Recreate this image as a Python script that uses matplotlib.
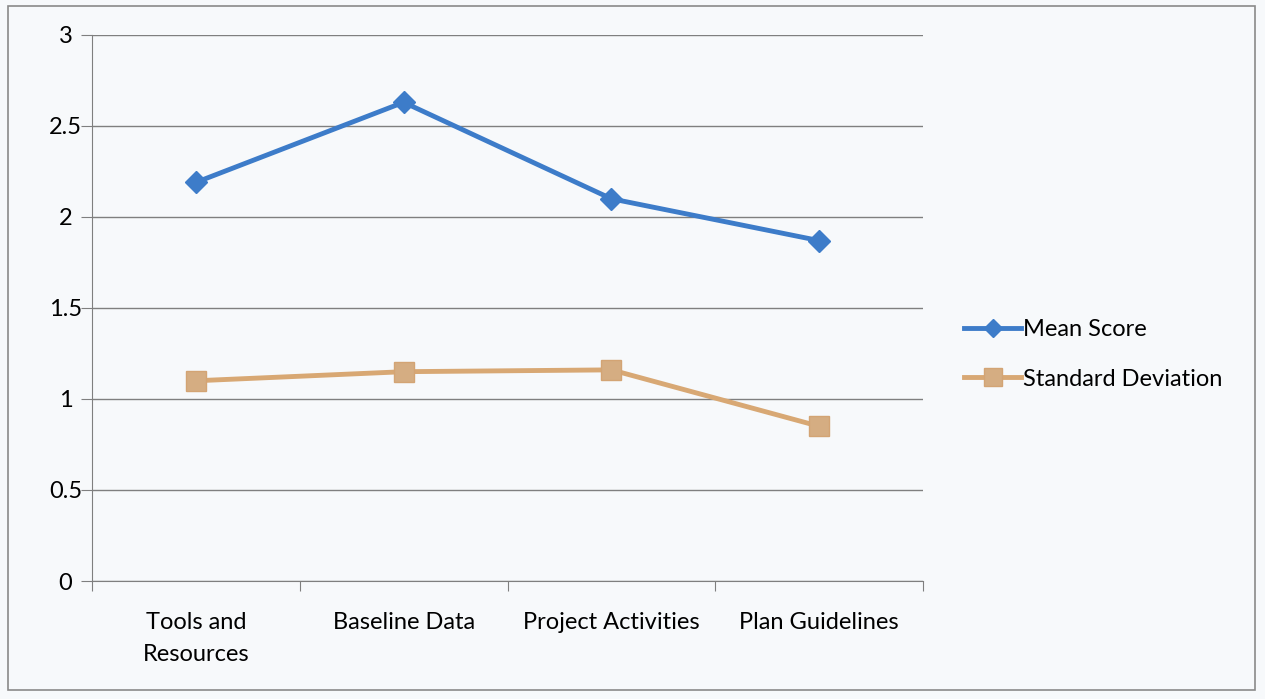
import matplotlib.pyplot as plt
import numpy as np
from matplotlib.patches import Rectangle

categories = ['Tools and\nResources', 'Baseline Data', 'Project Activities', 'Plan Guidelines']
mean_score = [2.19, 2.63, 2.10, 1.87]
std_dev = [1.10, 1.15, 1.16, 0.85]
y_ticks = [0, 0.5, 1, 1.5, 2, 2.5, 3]
y_labels = ['0', '0.5', '1', '1.5', '2', '2.5', '3']

plt.rcParams['font.family'] = ['Lato', 'DejaVu Sans']

fig = plt.figure(figsize=(12.65, 6.99), dpi=100)
fig.patch.set_facecolor('#f7f9fb')
# рамка области диаграммы
fig.patches.append(Rectangle((8 / 1265, 9 / 699), 1247 / 1265, 684 / 699,
                             transform=fig.transFigure, fill=False,
                             edgecolor='#8a8a8a', linewidth=1.2))

ax = fig.add_axes([0.0727, 0.1688, 0.657, 0.7812])
ax.set_facecolor('none')
x = np.arange(len(categories))

ax.plot(x, mean_score, color='#3d7cc9', linewidth=3.5, marker='D', markersize=11,
        label='Mean Score', zorder=3)
ax.plot(x, std_dev, color='#d8a874', linewidth=3.5, marker='s', markersize=15,
        markerfacecolor='#d5ad82', markeredgecolor='#d3a474', label='Standard Deviation', zorder=3)

ax.set_xlim(-0.5, len(categories) - 0.5)
ax.set_ylim(0, 3)
ax.set_yticks(y_ticks)
ax.set_yticklabels(y_labels, fontsize=17, ha='center')
ax.yaxis.grid(True, color='#7f7f7f', linewidth=1)
ax.set_axisbelow(True)

ax.set_xticks(np.arange(-0.5, len(categories), 1))
ax.set_xticklabels([])
ax.set_xticks(x, minor=True)
ax.set_xticklabels(categories, minor=True, fontsize=17, linespacing=1.65)
ax.tick_params(axis='x', which='minor', length=0, pad=22)
ax.tick_params(axis='x', which='major', length=7, color='#7f7f7f', direction='out')
ax.tick_params(axis='y', length=8, color='#7f7f7f', pad=11)

for side in ['top', 'right']:
    ax.spines[side].set_visible(False)
ax.spines['left'].set_color('#7f7f7f')
ax.spines['bottom'].set_color('#7f7f7f')

ax.legend(loc='center left', bbox_to_anchor=(1.024, 0.415), frameon=False, fontsize=17,
          handlelength=2.4, handletextpad=0.1, labelspacing=1.2, markerscale=0.85)

fig.savefig('out.png', dpi=100, facecolor=fig.get_facecolor())
